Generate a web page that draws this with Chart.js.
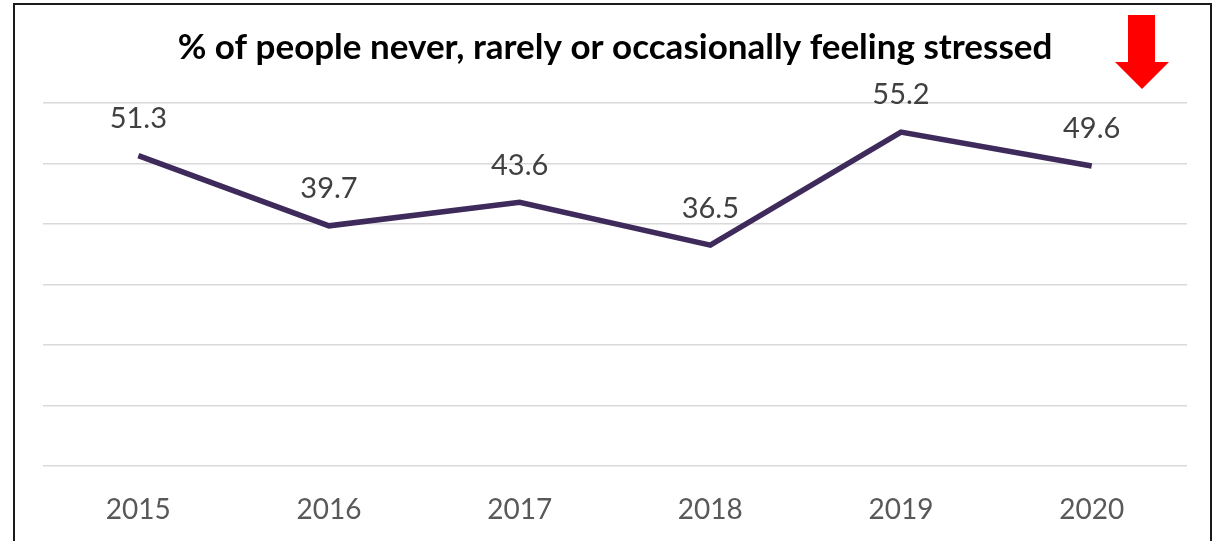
<!DOCTYPE html>
<html>
<head>
<meta charset="utf-8">
<script src="https://cdn.jsdelivr.net/npm/chart.js@4.4.1/dist/chart.umd.min.js"></script>
<style>
    html, body { margin: 0; padding: 0; background: #ffffff; }
    #wrap { position: relative; width: 1222px; height: 541px; overflow: hidden; }
    #frame {
        position: absolute; left: 13px; top: 3px; width: 1199px; height: 560px;
        border: 2px solid #1a1a1a; box-sizing: border-box; pointer-events: none;
    }
    canvas { display: block; }
</style>
</head>
<body>
<div id="wrap">
    <canvas id="chart" width="1222" height="541"></canvas>
    <div id="frame"></div>
</div>
<script>
    'use strict';

    var years = ['2015', '2016', '2017', '2018', '2019', '2020'];
    var stressValues = [51.3, 39.7, 43.6, 36.5, 55.2, 49.6];
    var chartTitle = '% of people never, rarely or occasionally feeling stressed';

    var FONT = 'Lato, "Open Sans", sans-serif';

    // value labels above each point
    var valueLabels = {
        id: 'valueLabels',
        afterDatasetsDraw: function(chart) {
            var ctx = chart.ctx;
            var meta = chart.getDatasetMeta(0);
            ctx.save();
            ctx.font = '29px ' + FONT;
            ctx.fillStyle = '#404040';
            ctx.textAlign = 'center';
            ctx.textBaseline = 'middle';
            meta.data.forEach(function(pt, i) {
                ctx.fillText(stressValues[i].toFixed(1), pt.x, pt.y - 37);
            });
            ctx.restore();
        }
    };

    // red "down" arrow in the top right corner
    var downArrow = {
        id: 'downArrow',
        afterDraw: function(chart) {
            var ctx = chart.ctx;
            var cx = chart.chartArea.right - 45;
            var top = 15;
            ctx.save();
            ctx.fillStyle = '#ff0000';
            ctx.beginPath();
            ctx.moveTo(cx - 14, top);
            ctx.lineTo(cx + 13, top);
            ctx.lineTo(cx + 13, top + 47);
            ctx.lineTo(cx + 27, top + 47);
            ctx.lineTo(cx, top + 74);
            ctx.lineTo(cx - 27, top + 47);
            ctx.lineTo(cx - 14, top + 47);
            ctx.closePath();
            ctx.fill();
            ctx.restore();
        }
    };

    new Chart(document.getElementById('chart'), {
        type: 'line',
        data: {
            labels: years,
            datasets: [{
                data: stressValues,
                borderColor: '#3f2a5c',
                borderWidth: 5.5,
                pointRadius: 0,
                tension: 0,
                fill: false
            }]
        },
        options: {
            responsive: false,
            animation: false,
            layout: {
                padding: { left: 43, right: 35, top: 0, bottom: 0 }
            },
            plugins: {
                legend: { display: false },
                tooltip: { enabled: false },
                title: {
                    display: true,
                    text: chartTitle,
                    color: '#000000',
                    font: { family: FONT, size: 35, weight: 'bold', lineHeight: 1.2 },
                    padding: { top: 27, bottom: 34 }
                }
            },
            scales: {
                x: {
                    offset: true,
                    grid: { display: false, drawTicks: false },
                    border: { display: false },
                    ticks: {
                        color: '#595959',
                        padding: 27,
                        font: { family: FONT, size: 28, lineHeight: 1.2 }
                    },
                    afterFit: function(scale) {
                        scale.height = 75;
                    }
                },
                y: {
                    min: 0,
                    max: 60,
                    grid: { color: '#d9d9d9', lineWidth: 1.5, drawTicks: false },
                    border: { display: false },
                    ticks: { display: false, stepSize: 10 }
                }
            }
        },
        plugins: [valueLabels, downArrow]
    });
</script>
</body>
</html>
